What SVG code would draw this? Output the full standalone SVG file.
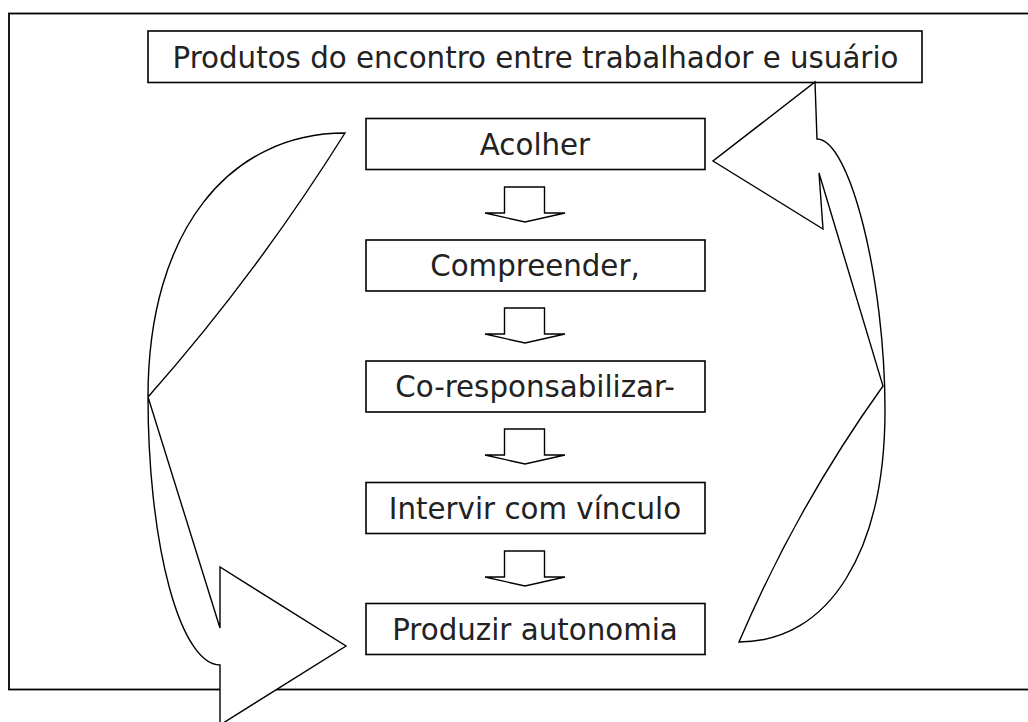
<svg xmlns="http://www.w3.org/2000/svg" width="1028" height="722" viewBox="0 0 1028 722">
<defs>
<style>
.box{fill:#fff;stroke:#000;stroke-width:1.6}
.lbl{font-family:"DejaVu Sans",sans-serif;font-size:29.3px;fill:#222;text-anchor:middle}
.blk{fill:#fff;stroke:#000;stroke-width:1.4;stroke-linejoin:miter}
.curve{fill:#fff;stroke:#000;stroke-width:1.4;stroke-linejoin:miter}
</style>
</defs>
<rect x="0" y="0" width="1028" height="722" fill="#fff"/>
<rect id="frame" x="9" y="13.5" width="1030" height="676" fill="none" stroke="#000" stroke-width="1.8"/>
<g id="title">
<rect class="box" x="148" y="31" width="774" height="51.5"/>
<text class="lbl" x="535.5" y="67.5">Produtos do encontro entre trabalhador e usuário</text>
</g>
<g id="acolher">
<rect class="box" x="366" y="118.5" width="339" height="51"/>
<text class="lbl" x="535" y="155">Acolher</text>
</g>
<g id="compreender">
<rect class="box" x="366" y="240" width="339" height="51"/>
<text class="lbl" x="535" y="276">Compreender,</text>
</g>
<g id="coresp">
<rect class="box" x="366" y="361" width="339" height="51"/>
<text class="lbl" x="535" y="397">Co-responsabilizar-</text>
</g>
<g id="intervir">
<rect class="box" x="366" y="482.5" width="339" height="51"/>
<text class="lbl" x="535" y="518.5">Intervir com vínculo</text>
</g>
<g id="produzir">
<rect class="box" x="366" y="603.5" width="339" height="51"/>
<text class="lbl" x="535" y="639.5">Produzir autonomia</text>
</g>
<g id="connectors">
<path class="blk" d="M504.5,187 H544.5 V213 H565 L525,222 L485,213 H504.5 Z"/>
<path class="blk" d="M504.5,308 H544.5 V334 H565 L525,343 L485,334 H504.5 Z"/>
<path class="blk" d="M504.5,429 H544.5 V455 H565 L525,464 L485,455 H504.5 Z"/>
<path class="blk" d="M504.5,551 H544.5 V577 H565 L525,586 L485,577 H504.5 Z"/>
<path id="leftCurve" class="curve" d="M345,133 C230,133 148,230 148,397 A72,268 0 0 0 220,665 L220,725 L346,646 L220,567 L220,628 L148,397 Q256,275 345,133 Z"/>
<path id="rightCurve" class="curve" d="M739,642 C830,642 885,550 885,410 C885,280 850,139 817,139 L815,82 L713,161 L823,229 L819,173 L883,386 Q797,506 739,642 Z"/>
</g>
</svg>
